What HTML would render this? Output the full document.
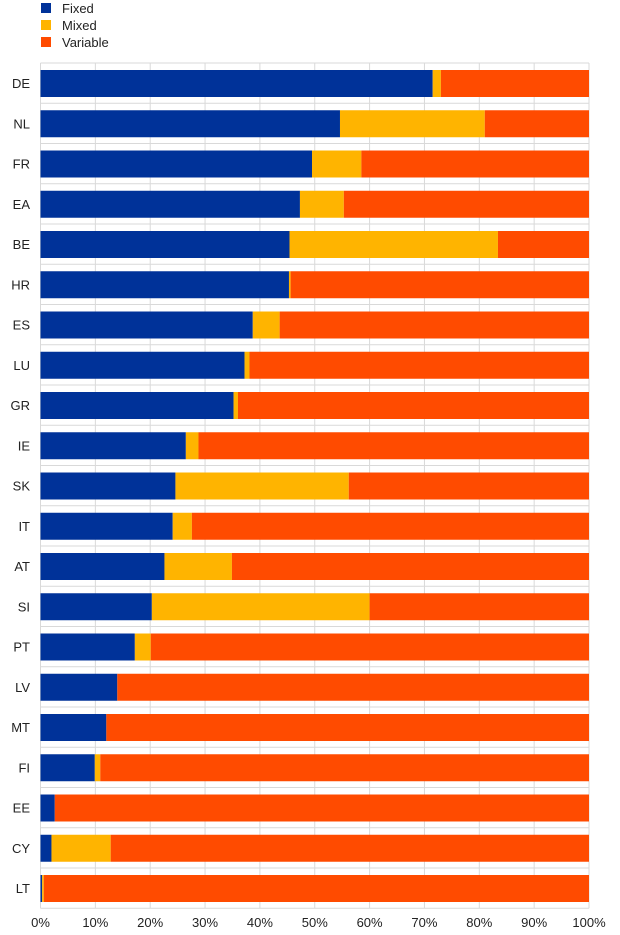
<!DOCTYPE html>
<html><head><meta charset="utf-8"><style>body{margin:0;background:#fff}svg{display:block}text{font-family:"Liberation Sans",sans-serif;font-size:13px;fill:#222}</style></head>
<body>
<svg id="s" width="620" height="935" xmlns="http://www.w3.org/2000/svg">
<rect x="41" y="3" width="10" height="10" fill="#003299"/><text x="62" y="13">Fixed</text>
<rect x="41" y="20" width="10" height="10" fill="#FFB400"/><text x="62" y="30">Mixed</text>
<rect x="41" y="37" width="10" height="10" fill="#FF4B00"/><text x="62" y="47">Variable</text>
<g id="g"></g>
</svg>
<script>
var d=[["DE",71.5,73],["NL",54.6,81],["FR",49.5,58.5],["EA",47.3,55.3],["BE",45.4,83.4],["HR",45.3,45.6],["ES",38.7,43.6],["LU",37.2,38.1],["GR",35.2,36],["IE",26.5,28.8],["SK",24.6,56.2],["IT",24.1,27.6],["AT",22.6,34.9],["SI",20.3,60],["PT",17.2,20.1],["LV",14,14],["MT",12,12],["FI",9.9,10.9],["EE",2.6,2.6],["CY",2,12.8],["LT",0.3,0.6]];
var L=40.5,W=548.5,T=63,P=40.25,h="";
for(var i=0;i<=10;i++){var x=L+W*i/10;h+='<line x1="'+x+'" x2="'+x+'" y1="'+T+'" y2="'+(T+P*21)+'" stroke="#d9d9d9"/>';h+='<text x="'+x+'" y="927" text-anchor="middle">'+(i*10)+'%</text>';}
for(var k=0;k<=21;k++){var y=T+P*k;h+='<line x1="'+L+'" x2="'+(L+W)+'" y1="'+y+'" y2="'+y+'" stroke="#d9d9d9"/>';}
d.forEach(function(r,k){var y=T+P*k+7,a=r[1]*W/100,b=r[2]*W/100;
h+='<rect x="'+L+'" y="'+y+'" width="'+a+'" height="27" fill="#003299"/>';
h+='<rect x="'+(L+a)+'" y="'+y+'" width="'+(b-a)+'" height="27" fill="#FFB400"/>';
h+='<rect x="'+(L+b)+'" y="'+y+'" width="'+(W-b)+'" height="27" fill="#FF4B00"/>';
h+='<text x="30" y="'+(y+18)+'" text-anchor="end">'+r[0]+'</text>';});
document.getElementById("g").innerHTML=h;
</script>
</body></html>
